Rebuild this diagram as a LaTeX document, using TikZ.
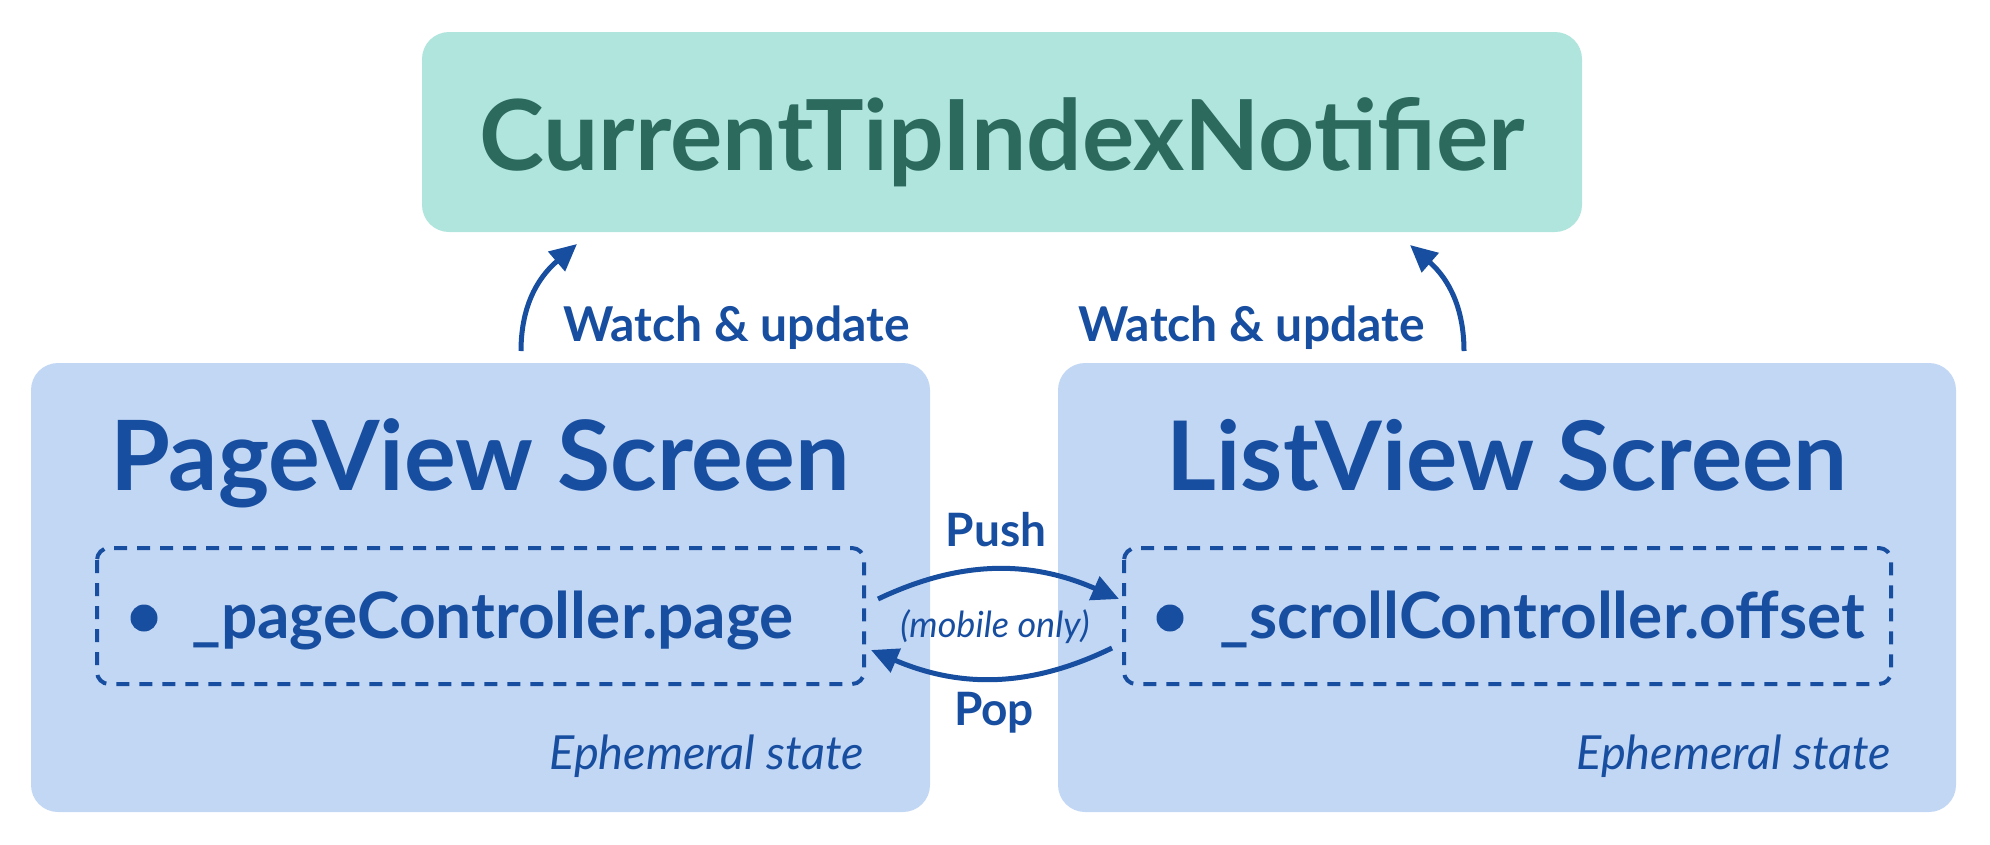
\documentclass[tikz,border=0pt]{standalone}
\usepackage{fontspec}
\setmainfont{Lato}
\usetikzlibrary{arrows.meta}
\definecolor{tealfill}{HTML}{B0E5DD}
\definecolor{tealtext}{HTML}{2C6A5E}
\definecolor{bluefill}{HTML}{C2D7F4}
\definecolor{bluetext}{HTML}{184EA0}
\tikzset{
  bigbox/.style={rounded corners=27pt, inner sep=0pt},
  dashbox/.style={draw=bluetext, line width=4pt, dash pattern=on 13pt off 10pt, rounded corners=12pt},
  conn/.style={draw=bluetext, line width=5pt, -{Triangle[length=27pt,width=25pt]}},
  lbl/.style={inner sep=0pt, text=bluetext, anchor=base},
}
\begin{document}
\begin{tikzpicture}[x=1pt,y=-1pt]
\useasboundingbox (0,0) rectangle (1990,844);
% boxes
\fill[tealfill, rounded corners=27pt] (422,32) rectangle (1582,232);
\coordinate (topbox) at (1002,132);
\fill[bluefill, rounded corners=27pt] (31,363) rectangle (930,812);
\fill[bluefill, rounded corners=27pt] (1058,363) rectangle (1956,812);
\draw[dashbox] (97,548) rectangle (864,684);
\draw[dashbox] (1124,548) rectangle (1891,684);
% titles
\node[lbl, text=tealtext, font=\fontsize{98}{112}\selectfont\bfseries] (title) at (1002,170) {CurrentTipIndexNotifier};
\node[lbl, font=\fontsize{97}{110}\selectfont\bfseries] (pv) at (480,490) {PageView Screen};
\node[lbl, font=\fontsize{96}{110}\selectfont\bfseries] (lv) at (1507,490) {ListView Screen};
% items
\node[circle, fill=bluetext, inner sep=0pt, minimum size=27pt] (b1) at (144,618) {};
\node[circle, fill=bluetext, inner sep=0pt, minimum size=27pt] (b2) at (1170,618) {};
\node[lbl, anchor=base west, font=\fontsize{64}{74}\selectfont\bfseries] (pc) at (191,638) {\_pageController.page};
\node[lbl, anchor=base west, font=\fontsize{64}{74}\selectfont\bfseries] (sc) at (1219,638) {\_scrollController.offset};
\node[lbl, anchor=base east, font=\fontsize{47}{56}\selectfont\itshape] (e1) at (864,769) {Ephemeral state};
\node[lbl, anchor=base east, font=\fontsize{47}{56}\selectfont\itshape] (e2) at (1891,769) {Ephemeral state};
% labels
\node[lbl, anchor=base west, font=\fontsize{48}{58}\selectfont\bfseries] (w1) at (563,341) {Watch \& update};
\node[lbl, anchor=base east, font=\fontsize{48}{58}\selectfont\bfseries] (w2) at (1425,341) {Watch \& update};
\node[lbl, font=\fontsize{46}{55}\selectfont\bfseries] (push) at (996,546) {Push};
\node[lbl, font=\fontsize{46}{55}\selectfont\bfseries] (pop) at (994,725) {Pop};
\node[lbl, font=\fontsize{36}{42}\selectfont\itshape] (mob) at (995,637) {(mobile only)};
% connector endpoints
\coordinate (a1s) at (521,351);
\coordinate (a1e) at (577,244);
\coordinate (a2s) at (1464,351);
\coordinate (a2e) at (1410,245);
\coordinate (ps) at (878,599);
\coordinate (pe) at (1119,599);
\coordinate (qs) at (1112,648);
\coordinate (qe) at (871,650);
\draw[conn] (a1s) .. controls (521,310) and (535,280) .. (a1e);
\draw[conn] (a2s) .. controls (1464,310) and (1450,280) .. (a2e);
\draw[conn] (ps) .. controls (960,560) and (1030,560) .. (pe);
\draw[conn] (qs) .. controls (1030,688) and (960,688) .. (qe);
\end{tikzpicture}
\end{document}
